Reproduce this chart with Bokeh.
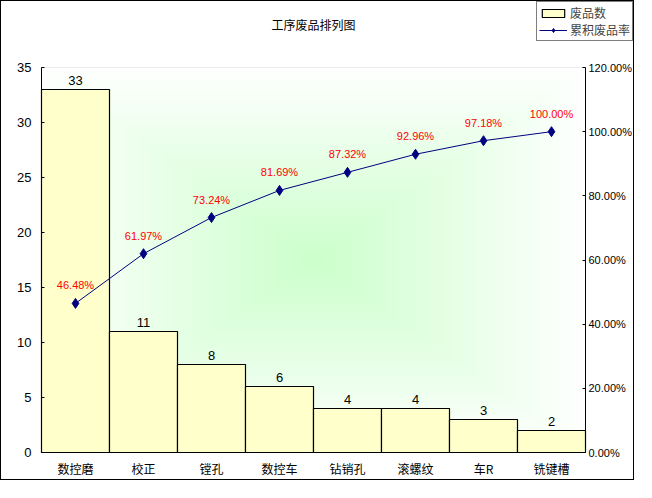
import numpy as np
from bokeh.plotting import figure
from bokeh.models import (ColumnDataSource, Range1d, LinearAxis, FixedTicker, BoxAnnotation,
                          NumeralTickFormatter, LabelSet, Label, Legend, LegendItem)
from bokeh.core.properties import value
from bokeh.embed import file_html
from bokeh.resources import INLINE

# ---- data ----
categories = ["数控磨", "校正", "镗孔", "数控车", "钻销孔", "滚螺纹", "车R", "铣键槽"]
defects = [33, 11, 8, 6, 4, 4, 3, 2]
cum_pct = [0.4648, 0.6197, 0.7324, 0.8169, 0.8732, 0.9296, 0.9718, 1.0000]
left_ticks = [0, 5, 10, 15, 20, 25, 30, 35]
right_ticks = [0.0, 0.2, 0.4, 0.6, 0.8, 1.0, 1.2]
title_text = "工序废品排列图"
legend_labels = ["废品数", "累积废品率"]

CJK = "Noto Sans CJK SC"
LAT = "Liberation Sans"

NCAT = len(categories)
YMAX = 35
PMAX = 1.2

xpos = [i + 0.5 for i in range(NCAT)]
src = ColumnDataSource(dict(
    x=xpos,
    val=defects,
    vlab=[str(v) for v in defects],
    pct=cum_pct,
    plab=["%.2f%%" % (p * 100) for p in cum_pct],
))

# layout (pixels inside the figure)
W, H = 634, 480
PL, PR, PT, PB = 40, 584, 66, 451          # plot-area edges
pxu = (PR - PL) / NCAT
x_start = -PL / pxu
x_end = NCAT + (W - PR) / pxu
pyu = (PB - PT) / YMAX
y_end = YMAX + PT / pyu
y_start = -(H - PB) / pyu

p = figure(width=W, height=H, output_backend="svg", toolbar_location=None,
           x_range=Range1d(x_start, x_end), y_range=Range1d(y_start, y_end),
           min_border_left=0, min_border_right=0, min_border_top=0, min_border_bottom=0,
           background_fill_color="white", border_fill_color="white")
p.styles = {"border": "1px solid black"}
p.extra_y_ranges = {"pct": Range1d(y_start * PMAX / YMAX, y_end * PMAX / YMAX)}
p.title.visible = False
p.xgrid.visible = False
p.ygrid.visible = False
p.outline_line_color = None

# ---- rectangular gradient background (style only) ----
n = 200
u = np.linspace(-1, 1, n)
U, V = np.meshgrid(u, u)
t = np.maximum(np.abs(U), np.abs(V))
img = np.zeros((n, n), dtype=np.uint32)
view = img.view(dtype=np.uint8).reshape((n, n, 4))
r = (204 + (255 - 204) * t).astype(np.uint8)
view[:, :, 0] = r
view[:, :, 1] = 255
view[:, :, 2] = r
view[:, :, 3] = 255
p.image_rgba(image=[img], x=0, y=0, dw=NCAT, dh=YMAX)

frame_box = BoxAnnotation(left=0, right=NCAT, bottom=0, top=YMAX, fill_alpha=0,
                          line_color="#808080", line_width=1, level="underlay")
p.add_layout(frame_box)

# ---- bars ----
bars = p.vbar(x="x", top="val", width=1.0, source=src,
              fill_color="#FFFFCC", line_color="black", line_width=1.2)
p.add_layout(LabelSet(x="x", y="val", text="vlab", source=src, text_align="center",
                      text_baseline="bottom", y_offset=5, text_font=value(LAT),
                      text_font_size="13px", text_color="black"))

# ---- cumulative line ----
line = p.line(x="x", y="pct", source=src, y_range_name="pct", line_color="#000080",
              line_width=1)
pts = p.scatter(x="x", y="pct", source=src, y_range_name="pct", marker="diamond",
                size=10, fill_color="#000080", line_color="#000080")
p.add_layout(LabelSet(x="x", y="pct", text="plab", source=src, y_range_name="pct",
                      text_align="center", text_baseline="bottom", y_offset=12,
                      text_font=value(LAT), text_font_size="11px", text_color="red"))

# ---- title ----
p.add_layout(Label(x=NCAT / 2, y=YMAX, y_offset=PT - 23, text=title_text,
                   text_align="center", text_baseline="middle", text_font=CJK,
                   text_font_size="12px", text_color="black"))

# ---- axes ----
xa = p.xaxis[0]
xa.fixed_location = 0
xa.ticker = FixedTicker(ticks=xpos)
xa.major_label_overrides = {xv: c for xv, c in zip(xpos, categories)}
xa.bounds = (0, NCAT)
xa.major_tick_in = 0
xa.major_tick_out = 0
xa.minor_tick_line_color = None
xa.axis_line_color = "black"
xa.major_label_text_font = CJK
xa.major_label_text_font_size = "12px"
xa.major_label_standoff = 7
xa.major_label_text_color = "black"

ya = p.yaxis[0]
ya.fixed_location = 0
ya.bounds = (0, YMAX)
ya.ticker = FixedTicker(ticks=left_ticks)
ya.major_tick_in = 3
ya.major_tick_out = 0
ya.minor_tick_line_color = None
ya.axis_line_color = "black"
ya.major_label_text_font = LAT
ya.major_label_text_font_size = "13px"
ya.major_label_standoff = 10
ya.major_label_text_color = "black"

ra = LinearAxis(y_range_name="pct", ticker=FixedTicker(ticks=right_ticks),
                formatter=NumeralTickFormatter(format="0.00%"))
ra.fixed_location = NCAT
ra.bounds = (0, PMAX)
ra.major_tick_in = 3
ra.major_tick_out = 0
ra.minor_tick_line_color = None
ra.axis_line_color = "black"
ra.major_label_text_font = LAT
ra.major_label_text_font_size = "11px"
ra.major_label_standoff = 3
ra.major_label_text_color = "black"
p.add_layout(ra, "right")

# ---- legend ----
legend = Legend(items=[LegendItem(label=legend_labels[0], renderers=[bars]),
                       LegendItem(label=legend_labels[1], renderers=[line, pts])],
                location=(535, H - 40), orientation="vertical")
legend.label_text_font = CJK
legend.label_text_font_size = "12px"
legend.label_text_line_height = 1.0
legend.glyph_width = 28
legend.glyph_height = 10
legend.label_height = 12
legend.label_standoff = 3
legend.spacing = 0
legend.padding = 2
legend.margin = 0
legend.border_line_color = "black"
legend.border_line_width = 1
legend.background_fill_color = "white"
legend.background_fill_alpha = 1
p.add_layout(legend)

open("out.html", "w").write(file_html(p, INLINE))
